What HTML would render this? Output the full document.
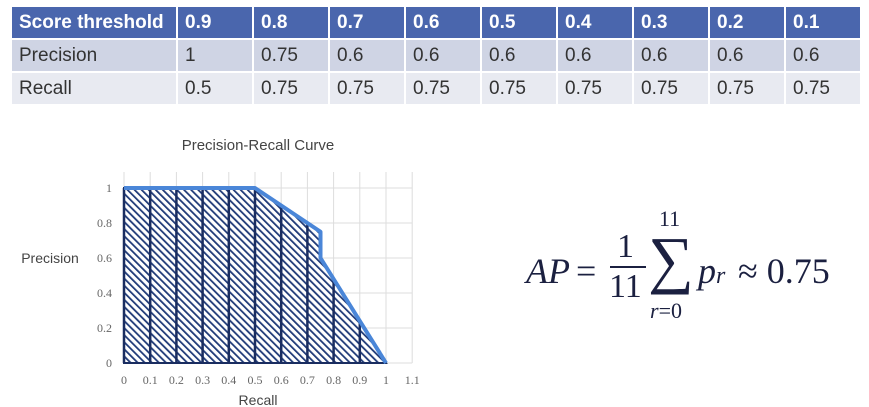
<!DOCTYPE html>
<html><head><meta charset="utf-8"><style>
body{margin:0;width:869px;height:407px;background:#fff;overflow:hidden;position:relative;font-family:"Liberation Sans",sans-serif}
table{position:absolute;left:10px;top:5px;border-collapse:collapse;width:852px;table-layout:fixed}
td{height:31px;padding:0 0 0 7px;font-size:19px;color:#333;border:2px solid #fff;white-space:nowrap}
tr.h td{background:#4a66ad;color:#fff;font-weight:bold;font-size:19px}
tr.r1 td{background:#cfd4e4}
tr.r2 td{background:#e8eaf1}
.f{position:absolute;font-family:"Liberation Serif",serif;color:#1b2040}
</style></head><body>
<table>
<colgroup><col style="width:166px"><col span="9" style="width:76px"></colgroup>
<tr class="h"><td>Score threshold</td><td>0.9</td><td>0.8</td><td>0.7</td><td>0.6</td><td>0.5</td><td>0.4</td><td>0.3</td><td>0.2</td><td>0.1</td></tr>
<tr class="r1"><td>Precision</td><td>1</td><td>0.75</td><td>0.6</td><td>0.6</td><td>0.6</td><td>0.6</td><td>0.6</td><td>0.6</td><td>0.6</td></tr>
<tr class="r2"><td>Recall</td><td>0.5</td><td>0.75</td><td>0.75</td><td>0.75</td><td>0.75</td><td>0.75</td><td>0.75</td><td>0.75</td><td>0.75</td></tr>
</table>

<svg id="chart" width="869" height="407" style="position:absolute;left:0;top:0">
<defs><pattern id="hatch" patternUnits="userSpaceOnUse" width="5" height="5" patternTransform="rotate(-45)"><rect width="5" height="5" fill="#fff"/><rect width="1.8" height="5" fill="#1f3a78"/></pattern></defs>
<text x="258" y="150" text-anchor="middle" font-size="15" fill="#444">Precision-Recall Curve</text>
<text x="50" y="263" text-anchor="middle" font-size="14" fill="#444">Precision</text>
<text x="258" y="405" text-anchor="middle" font-size="14" fill="#444">Recall</text>
<g id="g"></g>
</svg>

<div class="f" style="left:526px;top:250px;font-size:36px;font-style:italic">AP</div>
<div class="f" style="left:576px;top:250px;font-size:36px">=</div>
<div class="f" style="left:617px;top:228px;font-size:34px">1</div>
<div style="position:absolute;left:610px;top:266px;width:36px;height:2px;background:#1b2040"></div>
<div class="f" style="left:609px;top:268px;font-size:34px">11</div>
<div class="f" style="left:648px;top:228px;font-size:64px;line-height:1">∑</div>
<div class="f" style="left:659px;top:206px;font-size:22px">11</div>
<div class="f" style="left:650px;top:298px;font-size:22px"><i>r</i>=0</div>
<div class="f" style="left:698px;top:250px;font-size:36px;font-style:italic">p<span style="font-size:24px">r</span></div>
<div class="f" style="left:738px;top:250px;font-size:36px">≈ 0.75</div>

<script>
const curveRecall=[0,0.5,0.75,0.75,1];
const curvePrecision=[1,1,0.75,0.6,0];
const recallLevels=[0,0.1,0.2,0.3,0.4,0.5,0.6,0.7,0.8,0.9,1];
const xTicks=["0","0.1","0.2","0.3","0.4","0.5","0.6","0.7","0.8","0.9","1","1.1"];
const yTicks=["0","0.2","0.4","0.6","0.8","1"];
const X=v=>124+v*262, Y=v=>363-v*175;
const g=document.getElementById('g'),NS='http://www.w3.org/2000/svg';
function mk(t,a){const e=document.createElementNS(NS,t);for(const k in a)e.setAttribute(k,a[k]);g.appendChild(e);return e;}
function interp(r){for(let i=curveRecall.length-1;i>0;i--){const a=curveRecall[i-1],b=curveRecall[i];if(r>=a&&r<=b){if(b===a)return curvePrecision[i];return curvePrecision[i-1]+(curvePrecision[i]-curvePrecision[i-1])*(r-a)/(b-a);}}return 0;}
xTicks.forEach((t,i)=>{const v=i/10;const l=mk('line',{x1:X(v),x2:X(v),y1:172,y2:363,stroke:'#ddd'});

const tx=mk('text',{x:X(v),y:384,'text-anchor':'middle','font-size':12,fill:'#666','font-family':'Liberation Serif,serif'});tx.textContent=t;
});
yTicks.forEach(t=>{const v=+t;const l=mk('line',{x1:124,x2:X(1.1),y1:Y(v),y2:Y(v),stroke:'#ddd'});

const tx=mk('text',{x:112,y:Y(v)+4,'text-anchor':'end','font-size':12,fill:'#666','font-family':'Liberation Serif,serif'});tx.textContent=t;
});
let pts=curveRecall.map((r,i)=>X(r)+','+Y(curvePrecision[i])).join(' ')+' '+X(1)+','+Y(0)+' '+X(0)+','+Y(0);
const area=mk('polygon',{points:pts,fill:'url(#hatch)',stroke:'#1a2d60','stroke-width':2});

recallLevels.forEach(r=>{const p=interp(r);if(p<=0)return;const l=mk('line',{x1:X(r),x2:X(r),y1:Y(0),y2:Y(p),stroke:'#1a2d60','stroke-width':2.5});
});
const line=mk('polyline',{points:curveRecall.map((r,i)=>X(r)+','+Y(curvePrecision[i])).join(' '),fill:'none',stroke:'#4a86d8','stroke-width':4,'stroke-linejoin':'round'});

</script>
</body></html>
